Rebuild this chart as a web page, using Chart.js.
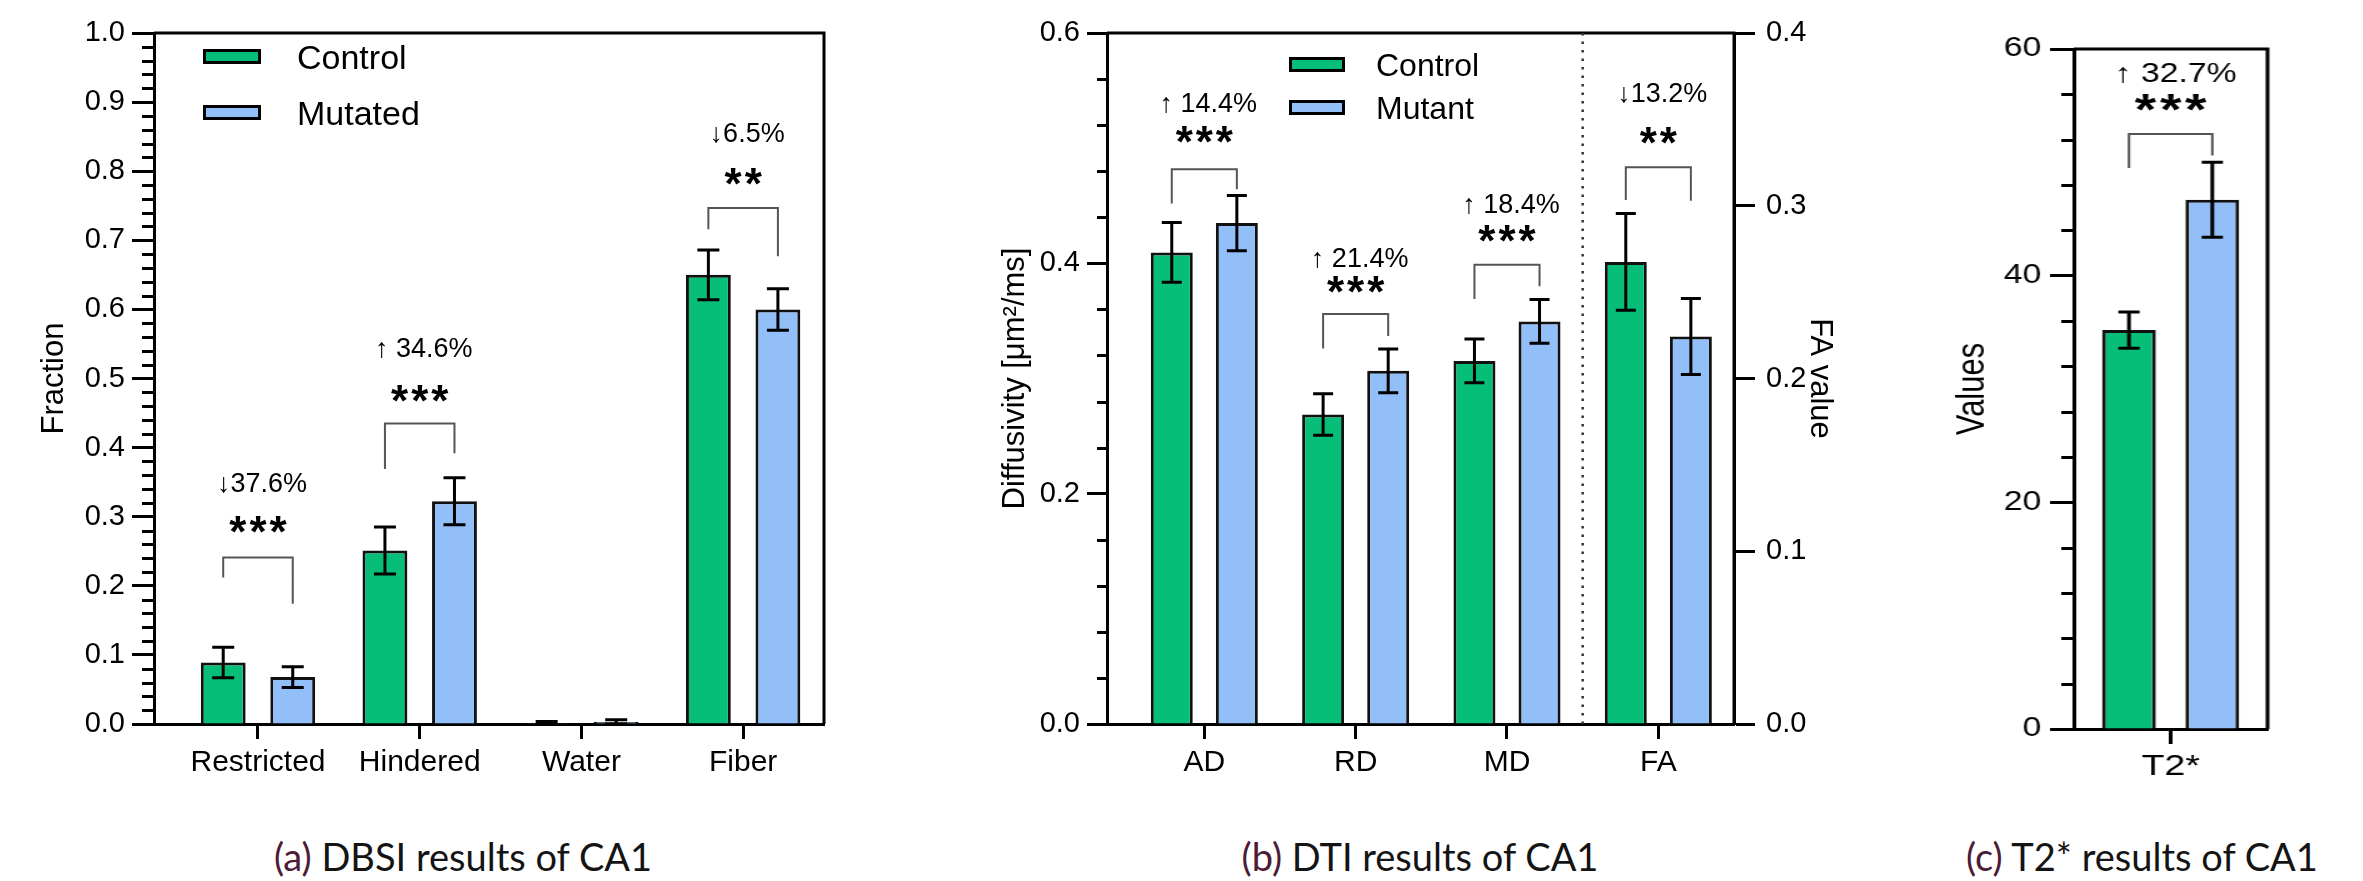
<!DOCTYPE html>
<html>
<head>
<meta charset="utf-8">
<script src="https://cdn.jsdelivr.net/npm/chart.js@4"></script>
<style>
  html, body { margin: 0; padding: 0; background: #fff; }
  body { width: 2363px; height: 881px; position: relative; overflow: hidden; }
  canvas { position: absolute; top: 0; }
  #panelC { position: absolute; left: 1880px; top: 0; width: 320px; height: 800px; transform: scaleX(1.25); transform-origin: 0 0; }
  .cap { position: absolute; top: 836px; font-family: Lato, sans-serif; font-size: 38px; line-height: 40px; color: #141414; white-space: nowrap; transform: translateX(-50%); }
  .cap span { color: #4e1b36; }
</style>
</head>
<body>
<canvas id="chartA" width="900" height="800" style="left:0"></canvas>
<canvas id="chartB" width="920" height="800" style="left:950px"></canvas>
<div id="panelC"><canvas id="chartC" width="320" height="800" style="left:0"></canvas></div>
<div class="cap" style="left:463px"><span>(a)</span> DBSI results of CA1</div>
<div class="cap" style="left:1420px"><span>(b)</span> DTI results of CA1</div>
<div class="cap" style="left:2142px"><span>(c)</span> T2* results of CA1</div>

<script>
// ---------- (a) DBSI ----------
const aCats = ["Restricted", "Hindered", "Water", "Fiber"];
const aControl = [0.089, 0.251, 0.0015, 0.650];
const aControlErr = [0.022, 0.034, 0.002, 0.036];
const aMutated = [0.068, 0.3225, 0.003, 0.600];
const aMutatedErr = [0.015, 0.034, 0.003, 0.030];
const aYLabels = ["0.0", "0.1", "0.2", "0.3", "0.4", "0.5", "0.6", "0.7", "0.8", "0.9", "1.0"];
const aSigCats = [0, 1, 3];
const aSigStars = ["***", "***", "**"];
const aSigText = ["↓37.6%", "↑ 34.6%", "↓6.5%"];

// ---------- (b) DTI ----------
const bCats = ["AD", "RD", "MD", "FA"];
const bRightCats = ["FA"];              // plotted against the FA value axis
const bControl = [0.4095, 0.2687, 0.3153, 0.2675];
const bControlErr = [0.026, 0.018, 0.019, 0.028];
const bMutant = [0.435, 0.3067, 0.3495, 0.2243];
const bMutantErr = [0.024, 0.019, 0.019, 0.022];
const bYLabels = ["0.0", "0.2", "0.4", "0.6"];
const bY2Labels = ["0.0", "0.1", "0.2", "0.3", "0.4"];
const bSigCats = [0, 1, 2, 3];
const bSigStars = ["***", "***", "***", "**"];
const bSigText = ["↑ 14.4%", "↑ 21.4%", "↑ 18.4%", "↓13.2%"];

// ---------- (c) T2* ----------
const cCats = ["T2*"];
const cControl = [35.2];
const cControlErr = [1.6];
const cMutant = [46.7];
const cMutantErr = [3.3];
const cYLabels = ["0", "20", "40", "60"];
const cSigCats = [0];
const cSigStars = ["***"];
const cSigText = ["↑ 32.7%"];

// bracket placement, in left-axis units: [top, left leg end, right leg end, stars, text]
const aSigY = [[0.241, 0.212, 0.174, 0.288, 0.349], [0.435, 0.369, 0.392, 0.479, 0.5436], [0.7466, 0.716, 0.677, 0.792, 0.8546]];
const bSigY = [[0.4816, 0.452, 0.4644, 0.512, 0.539], [0.356, 0.326, 0.337, 0.382, 0.405], [0.3987, 0.369, 0.380, 0.4255, 0.4514], [0.4834, 0.4549, 0.4544, 0.5106, 0.5478]];
const cSigY = [[52.5, 49.5, 50.6, 55.3, 57.9]];

const FONT = "'Liberation Sans', Arial, sans-serif";
const GREEN = "#07be78";
const BLUE = "#93bff8";

Chart.defaults.font.family = FONT;
Chart.defaults.color = "#000";
Chart.defaults.animation = false;

const isMajor = (v, step) => Math.abs(v / step - Math.round(v / step)) < 1e-6;
const yOf = d => (typeof d === "object" ? d.y : d);
const xOf = (d, j) => (typeof d === "object" ? d.x : j);

function barsAt(chart, cat) {
    const xs = [];
    chart.data.datasets.forEach((ds, i) => {
        ds.data.forEach((d, j) => {
            if (xOf(d, j) === cat) xs.push(chart.getDatasetMeta(i).data[j].x);
        });
    });
    return xs.sort((p, q) => p - q);
}

function centerText(ctx, str, x, y, font, spacing) {
    ctx.font = font;
    ctx.letterSpacing = spacing + "px";
    ctx.textAlign = "center";
    ctx.textBaseline = "alphabetic";
    const m = ctx.measureText(str);
    ctx.fillText(str, x + spacing / 2, y + (m.actualBoundingBoxAscent - m.actualBoundingBoxDescent) / 2);
    ctx.letterSpacing = "0px";
}

// frame, minor ticks, error bars, significance brackets and in-plot legend
function decor(o) {
    return {
        id: "decor",
        afterDraw(chart) {
            const { ctx, chartArea: area } = chart;
            const yv = chart.scales.y;
            ctx.save();

            ctx.strokeStyle = "#000";
            ctx.lineWidth = 3;
            ctx.beginPath();
            ctx.moveTo(area.left, area.top);
            ctx.lineTo(area.right, area.top);
            ctx.lineTo(area.right, area.bottom);
            ctx.stroke();

            // short minor ticks on the left value axis
            const [minorLen, majorStep] = o.minor;
            ctx.beginPath();
            yv.ticks.forEach(t => {
                if (isMajor(t.value, majorStep)) return;
                const y = Math.round(yv.getPixelForValue(t.value)) + 0.5;
                ctx.moveTo(area.left, y);
                ctx.lineTo(area.left - minorLen, y);
            });
            ctx.stroke();

            if (o.divider !== undefined) {
                const x = chart.scales.x.getPixelForValue(o.divider);
                ctx.setLineDash([2.5, 6]);
                ctx.lineWidth = 2.5;
                ctx.strokeStyle = "#333";
                ctx.beginPath();
                ctx.moveTo(x, area.top);
                ctx.lineTo(x, area.bottom);
                ctx.stroke();
                ctx.setLineDash([]);
            }

            // error bars
            ctx.strokeStyle = "#000";
            ctx.lineWidth = 3;
            chart.data.datasets.forEach((ds, i) => {
                const meta = chart.getDatasetMeta(i);
                const ys = chart.scales[meta.yAxisID];
                meta.data.forEach((bar, j) => {
                    const v = yOf(ds.data[j]), e = ds.errors[j];
                    const top = ys.getPixelForValue(v + e);
                    const bot = ys.getPixelForValue(Math.max(v - e, 0));
                    const h = o.cap / 2;
                    ctx.beginPath();
                    ctx.moveTo(bar.x, top); ctx.lineTo(bar.x, bot);
                    ctx.moveTo(bar.x - h, top); ctx.lineTo(bar.x + h, top);
                    ctx.moveTo(bar.x - h, bot); ctx.lineTo(bar.x + h, bot);
                    ctx.stroke();
                });
            });

            // brackets
            o.sigCats.forEach((cat, k) => {
                const [l, r] = barsAt(chart, cat);
                const [top, legL, legR, starY, textY] = o.sigY[k];
                ctx.strokeStyle = "#555";
                ctx.lineWidth = 2;
                ctx.beginPath();
                ctx.moveTo(l, yv.getPixelForValue(legL));
                ctx.lineTo(l, yv.getPixelForValue(top));
                ctx.lineTo(r, yv.getPixelForValue(top));
                ctx.lineTo(r, yv.getPixelForValue(legR));
                ctx.stroke();
                ctx.fillStyle = "#000";
                const cx = (l + r) / 2;
                centerText(ctx, o.sigStars[k], cx, yv.getPixelForValue(starY), "bold 44px " + FONT, 3);
                centerText(ctx, o.sigText[k], cx + 4, yv.getPixelForValue(textY), "27px " + FONT, 0);
            });

            // legend
            if (o.legend) {
                const lg = o.legend;
                chart.data.datasets.slice(0, 2).forEach((ds, i) => {
                    const y = lg.y + i * lg.dy;
                    ctx.fillStyle = ds.backgroundColor;
                    ctx.fillRect(lg.x, y, lg.w, lg.h);
                    ctx.strokeStyle = "#000";
                    ctx.lineWidth = 3;
                    ctx.strokeRect(lg.x + 1.5, y + 1.5, lg.w - 3, lg.h - 3);
                    ctx.fillStyle = "#000";
                    ctx.font = lg.font;
                    ctx.textAlign = "left";
                    ctx.textBaseline = "alphabetic";
                    const m = ctx.measureText(ds.label);
                    ctx.fillText(ds.label, lg.textX, y + lg.h / 2 + (m.actualBoundingBoxAscent - m.actualBoundingBoxDescent) / 2);
                });
            }
            ctx.restore();
        }
    };
}

function catAxis(labels, height, pad) {
    return {
        type: "linear",
        min: -0.643,
        max: labels.length - 0.5,
        offset: false,
        afterBuildTicks: s => { s.ticks = labels.map((l, i) => ({ value: i })); },
        afterFit: s => { s.height = height; },
        border: { color: "#000", width: 3 },
        grid: { drawOnChartArea: false, offset: false, tickLength: 15, tickWidth: 3, tickColor: "#000" },
        ticks: { autoSkip: false, maxRotation: 0, padding: pad, font: { size: 30 }, callback: (v, i) => labels[i] }
    };
}

function valueAxis(cfg) {
    return {
        position: cfg.position || "left",
        min: 0,
        max: cfg.max,
        // one tick per minor step; the library would otherwise thin them out
        afterBuildTicks: s => {
            const t = [];
            for (let k = 0; k * cfg.step <= cfg.max + 1e-9; k++) t.push({ value: +(k * cfg.step).toFixed(6) });
            s.ticks = t;
        },
        afterFit: s => { s.width = cfg.width; },
        border: { color: "#000", width: 3 },
        grid: {
            drawOnChartArea: false, tickLength: cfg.majorLen, tickWidth: 3,
            // minor ticks are drawn shorter by the decor plugin
            tickColor: c => (c.tick && !isMajor(c.tick.value, cfg.major) ? "rgba(0,0,0,0)" : "#000")
        },
        ticks: {
            autoSkip: false, padding: cfg.pad, font: { size: cfg.size || 29 },
            callback: v => (isMajor(v, cfg.major) ? cfg.labels[Math.round(v / cfg.major)] : "")
        },
        title: { display: true, text: cfg.title, font: { size: 31 }, padding: { top: cfg.titlePad, bottom: 0 } }
    };
}

const barOpts = { borderColor: "#111", borderWidth: 3, categoryPercentage: 0.86, barPercentage: 0.645, skipNull: true };
const noPlugins = { legend: { display: false }, tooltip: { enabled: false } };

// ---------- chart (a) ----------
new Chart(document.getElementById("chartA"), {
    type: "bar",
    data: {
        datasets: [
            { label: "Control", data: aCats.map((c, i) => ({ x: i, y: aControl[i] })), errors: aControlErr, backgroundColor: GREEN },
            { label: "Mutated", data: aCats.map((c, i) => ({ x: i, y: aMutated[i] })), errors: aMutatedErr, backgroundColor: BLUE }
        ]
    },
    options: {
        responsive: false,
        layout: { padding: { top: 33, right: 76, bottom: 0, left: 0 } },
        datasets: { bar: barOpts },
        plugins: noPlugins,
        scales: {
            x: catAxis(aCats, 76, 6),
            y: valueAxis({ max: 1, step: 0.02, major: 0.1, labels: aYLabels, majorLen: 22, width: 154, pad: 7, title: "Fraction", titlePad: 36 })
        }
    },
    plugins: [decor({ cap: 22, minor: [12, 0.1], sigCats: aSigCats, sigStars: aSigStars, sigText: aSigText, sigY: aSigY,
        legend: { x: 203, y: 49, dy: 56, w: 58, h: 15, textX: 297, font: "34px " + FONT } })]
});

// ---------- chart (b) ----------
const bLeft = bCats.map((c, i) => i).filter(i => !bRightCats.includes(bCats[i]));
const bRight = bCats.map((c, i) => i).filter(i => bRightCats.includes(bCats[i]));
const pick = (idx, vals) => idx.map(i => ({ x: i, y: vals[i] }));
new Chart(document.getElementById("chartB"), {
    type: "bar",
    data: {
        datasets: [
            { label: "Control", data: pick(bLeft, bControl), errors: bLeft.map(i => bControlErr[i]), backgroundColor: GREEN, yAxisID: "y" },
            { label: "Mutant", data: pick(bLeft, bMutant), errors: bLeft.map(i => bMutantErr[i]), backgroundColor: BLUE, yAxisID: "y" },
            { label: "Control", data: pick(bRight, bControl), errors: bRight.map(i => bControlErr[i]), backgroundColor: GREEN, yAxisID: "y2" },
            { label: "Mutant", data: pick(bRight, bMutant), errors: bRight.map(i => bMutantErr[i]), backgroundColor: BLUE, yAxisID: "y2" }
        ]
    },
    options: {
        responsive: false,
        layout: { padding: { top: 33, right: 0, bottom: 0, left: 0 } },
        datasets: { bar: barOpts },
        plugins: noPlugins,
        scales: {
            x: catAxis(bCats, 76, 6),
            y: valueAxis({ max: 0.6, step: 0.04, major: 0.2, labels: bYLabels, majorLen: 20, width: 157, pad: 7, title: "Diffusivity [μm²/ms]", titlePad: 47 }),
            y2: valueAxis({ position: "right", max: 0.4, step: 0.1, major: 0.1, labels: bY2Labels, majorLen: 21, width: 136, pad: 11, title: "FA value", titlePad: 32 })
        }
    },
    plugins: [decor({ cap: 20, minor: [10, 0.2], divider: 2.5, sigCats: bSigCats, sigStars: bSigStars, sigText: bSigText, sigY: bSigY,
        legend: { x: 339, y: 57, dy: 43, w: 56, h: 15, textX: 426, font: "32px " + FONT } })]
});

// ---------- chart (c) ----------
const cX = catAxis(cCats, 71, 5);
Object.assign(cX, { type: "category", labels: cCats, min: undefined, max: undefined, offset: true, afterBuildTicks: undefined });
new Chart(document.getElementById("chartC"), {
    type: "bar",
    data: {
        labels: cCats,
        datasets: [
            { label: "Control", data: cControl, errors: cControlErr, backgroundColor: GREEN },
            { label: "Mutant", data: cMutant, errors: cMutantErr, backgroundColor: BLUE }
        ]
    },
    options: {
        responsive: false,
        layout: { padding: { top: 49, right: 10, bottom: 0, left: 0 } },
        datasets: { bar: barOpts },
        plugins: noPlugins,
        scales: {
            x: cX,
            y: valueAxis({ max: 60, step: 4, major: 20, labels: cYLabels, majorLen: 19, width: 155, pad: 7, size: 27, title: "Values", titlePad: 56 })
        }
    },
    plugins: [decor({ cap: 17, minor: [10, 20], sigCats: cSigCats, sigStars: cSigStars, sigText: cSigText, sigY: cSigY })]
});
</script>
</body>
</html>
